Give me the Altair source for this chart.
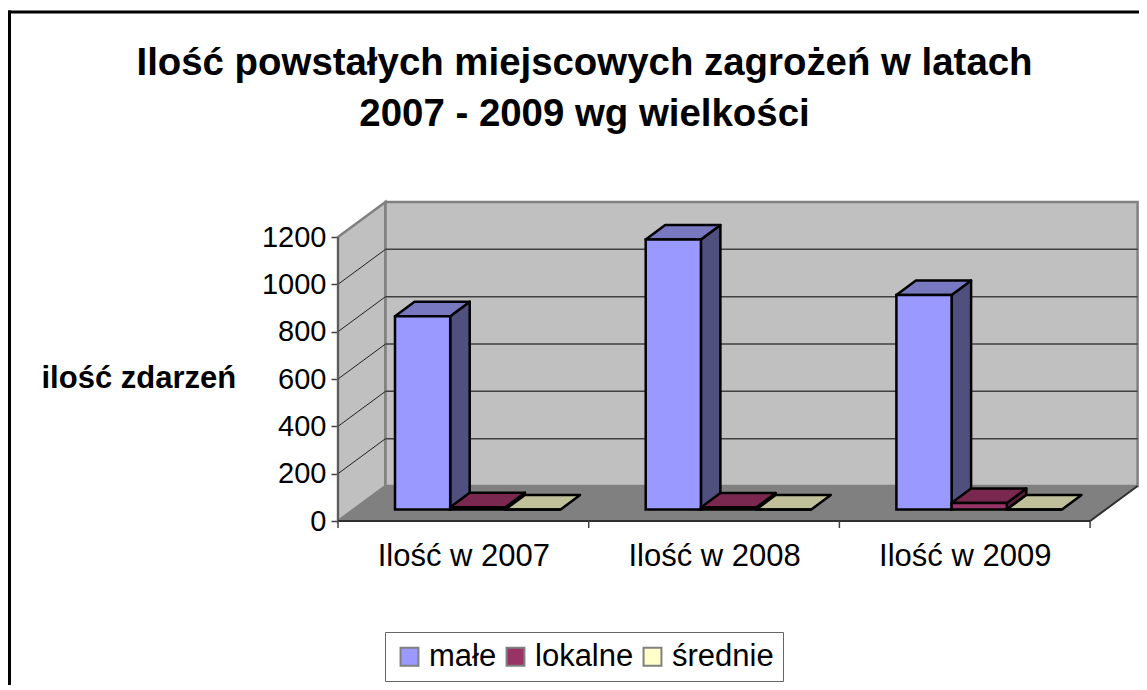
import altair as alt
import pandas as pd

# ---- data ----
years = ["Ilość w 2007", "Ilość w 2008", "Ilość w 2009"]
series = ["małe", "lokalne", "średnie"]
male = [817, 1141, 906]
lokalne = [10, 8, 27]
srednie = [0, 0, 0]
y_ticks = [0, 200, 400, 600, 800, 1000, 1200]
title_lines = ["Ilość powstałych miejscowych zagrożeń w latach", "2007 - 2009 wg wielkości"]
y_title = "ilość zdarzeń"

front_colors = ["#9999ff", "#993366", "#ffffcc"]
top_colors = ["#7878c0", "#7a2850", "#c0c09a"]
side_colors = ["#50507f", "#5c1f3d", "#80806a"]

# ---- 3D geometry, in scale units ----
PX_X = 250.7      # px per category
PX_Y = 284 / 1200 # px per value unit
W = 799
H = 320
x_dom = [0, W / PX_X]
y_dom = [0, H / PX_Y]
wall_dx = 47.5 / PX_X
wall_dy = 35 / PX_Y
bar_start = 57 / PX_X
bar_w = 55.2 / PX_X
bar_dx = 19.5 / PX_X
bar_dy = 14.5 / PX_Y
bar_base = 11.5 / PX_Y

x_axis = alt.Axis(
    title=None,
    values=[0.5, 1.5, 2.5],
    ticks=False,
    domain=False,
    grid=False,
    labelFont="Liberation Sans",
    labelFontSize=31,
    labelColor="black",
    labelPadding=20,
    labelExpr="['" + "','".join(years) + "'][floor(datum.value)]",
)
y_axis = alt.Axis(
    title=y_title,
    titleAngle=0,
    titleAlign="left",
    titleBaseline="middle",
    titleX=-297,
    titleY=177,
    titleFont="Liberation Sans",
    titleFontSize=31,
    titleFontWeight="bold",
    titleColor="black",
    values=y_ticks,
    format="d",
    domain=False,
    grid=False,
    tickSize=7,
    tickColor="#404040",
    tickWidth=1.5,
    labelFont="Liberation Sans",
    labelFontSize=29,
    labelColor="black",
    labelPadding=5,
)
X = alt.X("x:Q", scale=alt.Scale(domain=x_dom), axis=x_axis)
Y = alt.Y("y:Q", scale=alt.Scale(domain=y_dom), axis=y_axis)


def flat_face(name, fill, x0, w, dx, y0, dy):
    """Parallelogram with horizontal edges, as area rows."""
    xs = sorted({x0, x0 + dx, x0 + w, x0 + w + dx})
    rows = []
    for x in xs:
        up = min(y0 + dy, y0 + dy * (x - x0) / dx)
        lo = max(y0, y0 + dy * (x - x0 - w) / dx)
        rows.append(dict(poly=name, fill=fill, x=x, y=up, y2=lo))
    return rows


def side_face(name, fill, x0, dx, y0, top, dy):
    return [
        dict(poly=name, fill=fill, x=x0, y=top, y2=y0),
        dict(poly=name, fill=fill, x=x0 + dx, y=top + dy, y2=y0 + dy),
    ]


# walls and floor
wall_rows = side_face("left", "#c0c0c0", 0, wall_dx, 0, 1200, wall_dy) + [
    dict(poly="back", fill="#c0c0c0", x=wall_dx, y=1200 + wall_dy, y2=wall_dy),
    dict(poly="back", fill="#c0c0c0", x=3 + wall_dx, y=1200 + wall_dy, y2=wall_dy),
]
walls = alt.Chart(pd.DataFrame(wall_rows)).mark_area(stroke="#808080", strokeWidth=2.5).encode(
    x=X, y=Y, y2="y2:Q", detail="poly:N",
    color=alt.Color("fill:N", scale=None),
)
floor_rows = flat_face("floor", "#808080", 0, 3, wall_dx, 0, wall_dy)
floor = alt.Chart(pd.DataFrame(floor_rows)).mark_area().encode(
    x=X, y=Y, y2="y2:Q", detail="poly:N",
    color=alt.Color("fill:N", scale=None),
)

# gridlines
grid_rows = []
for t in y_ticks[1:-1]:
    grid_rows.append(dict(t=t, x=wall_dx, x2=3 + wall_dx, y=t + wall_dy, y2=t + wall_dy))
back_grid = alt.Chart(pd.DataFrame(grid_rows)).mark_rule(color="#404040", strokeWidth=1.5).encode(
    x=X, x2="x2:Q", y=Y, y2="y2:Q"
)
diag_rows = []
for t in y_ticks[1:-1]:
    diag_rows.append(dict(t=t, x=0, y=t))
    diag_rows.append(dict(t=t, x=wall_dx, y=t + wall_dy))
left_grid = alt.Chart(pd.DataFrame(diag_rows)).mark_line(color="#202020", strokeWidth=1).encode(
    x=X, y=Y, detail="t:N"
)

# floor / wall edges
edge_rows = [
    dict(e="a", x=0, y=0), dict(e="a", x=3, y=0), dict(e="a", x=3 + wall_dx, y=wall_dy),
]
edges = alt.Chart(pd.DataFrame(edge_rows)).mark_line(color="#303030", strokeWidth=2).encode(
    x=X, y=Y, detail="e:N", order=alt.Order("x:Q")
)
front_edge = alt.Chart(pd.DataFrame([dict(x=0, y=0), dict(x=0, y=1200)])).mark_line(
    color="#505050", strokeWidth=1.5
).encode(x=X, y=Y)

# x axis ticks below the floor front edge
x_tick_df = pd.DataFrame(dict(x=[0, 1, 2, 3]))
x_ticks = alt.Chart(x_tick_df).mark_rule(color="#404040", strokeWidth=1.5).encode(
    x=X, y=alt.value(H), y2=alt.value(H + 7)
)

# bars
face_rows = []
bar_rows = []
for i, year in enumerate(years):
    for j, (name, vals) in enumerate(zip(series, [male, lokalne, srednie])):
        x0 = i + bar_start + j * bar_w
        v = vals[i]
        top = bar_base + v
        if v > 0:
            face_rows += side_face(f"s{i}{j}", side_colors[j], x0 + bar_w, bar_dx, bar_base, top, bar_dy)
        face_rows += flat_face(f"t{i}{j}", top_colors[j], x0, bar_w, bar_dx, top, bar_dy)
        bar_rows.append(dict(year=year, seria=name, x=x0, x2=x0 + bar_w, y=top, y2=bar_base))

faces = alt.Chart(pd.DataFrame(face_rows)).mark_area(stroke="black", strokeWidth=2.5, strokeJoin="round").encode(
    x=X, y=Y, y2="y2:Q", detail="poly:N",
    color=alt.Color("fill:N", scale=None),
)

bars = alt.Chart(pd.DataFrame(bar_rows)).mark_bar(stroke="black", strokeWidth=2.5).encode(
    x=X, x2="x2:Q", y=Y, y2="y2:Q",
    color=alt.Color(
        "seria:N",
        scale=alt.Scale(domain=series, range=front_colors),
        sort=series,
        legend=alt.Legend(
            title=None,
            orient="none",
            legendX=47,
            legendY=431,
            direction="horizontal",
            columns=3,
            columnPadding=3,
            padding=9,
            strokeColor="#666666",
            fillColor="white",
            symbolType="square",
            symbolSize=320,
            symbolStrokeColor="black",
            symbolStrokeWidth=2,
            labelFont="Liberation Sans",
            labelFontSize=31,
            labelColor="black",
            labelOffset=4,
            labelLimit=300,
        ),
    ),
)

# outer chart frame
frame_left = alt.Chart(alt.Data(values=[{}])).mark_rule(color="black", strokeWidth=3).encode(
    x=alt.value(-328.5), y=alt.value(-190.5), y2=alt.value(489)
)
frame_top = alt.Chart(alt.Data(values=[{}])).mark_rule(color="black", strokeWidth=3).encode(
    x=alt.value(-330), x2=alt.value(809), y=alt.value(-189)
)

chart = (
    alt.layer(
        walls, floor, back_grid, left_grid, front_edge, edges,
        x_ticks, faces, bars, frame_left, frame_top,
    )
    .properties(
        width=W,
        height=H,
        padding={"left": 330, "top": 193, "right": 2, "bottom": 164},
        autosize=alt.AutoSizeParams(type="none"),
        background="white",
        title=alt.TitleParams(
            text=title_lines,
            anchor="middle",
            frame="group",
            dx=-153,
            offset=-125,
            font="Liberation Sans",
            fontSize=38.4,
            fontWeight="bold",
            color="black",
            lineHeight=51,
        ),
    )
    .configure_view(strokeWidth=0)
)

chart.save("out.html", embed_options={"renderer": "svg", "actions": False})
